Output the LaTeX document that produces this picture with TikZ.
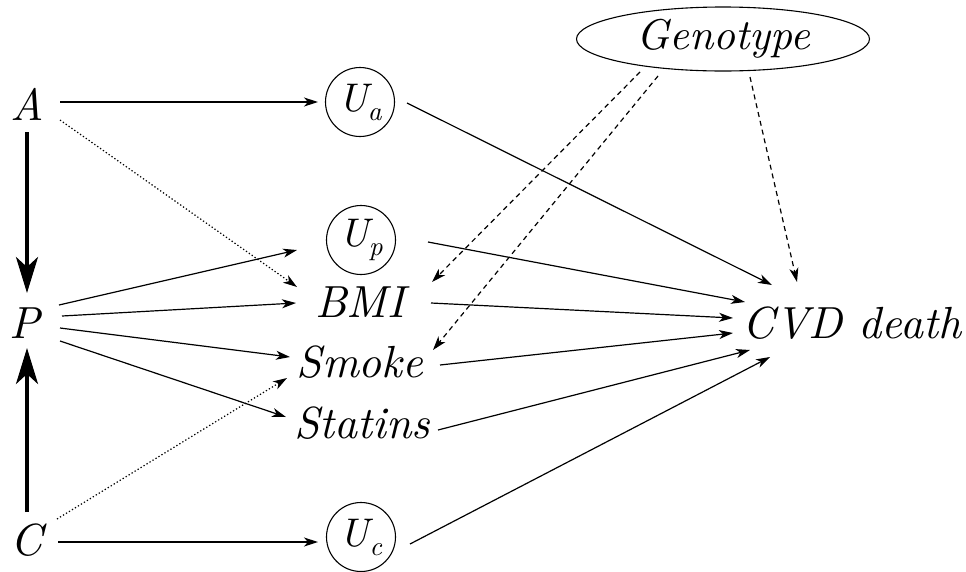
\documentclass[tikz,border=0pt]{standalone}
\usepackage{fontspec}
\newfontfamily\tit{lmroman10-italic}[Extension=.otf]
\usetikzlibrary{arrows.meta,shapes.geometric,calc}
\newcommand\Ulab[1]{{\fontsize{40}{40}\tit U\kern0pt\raisebox{-9pt}{\fontsize{27}{27}\tit #1}}}
\begin{document}
\begin{tikzpicture}[x=1pt,y=-1pt,
  lbl/.style={font=\fontsize{45}{50}\tit, inner sep=0pt, anchor=base},
  ucirc/.style={circle, draw, line width=1.1pt, minimum size=69pt, inner sep=0pt},
  geno/.style={ellipse, draw, line width=1.1pt, minimum width=293pt, minimum height=64pt, inner sep=0pt, font=\fontsize{43}{50}\tit},
  arr/.style={-{Stealth[length=14pt,width=9pt,inset=4pt]}, line width=1.2pt},
  thick arr/.style={-{Stealth[length=36pt,width=22pt,inset=10pt]}, line width=3.6pt},
  dotarr/.style={arr, dash pattern=on 1.3pt off 2.2pt},
  dasharr/.style={arr, dash pattern=on 5pt off 4pt}
]
\useasboundingbox (0,0) rectangle (966,571);

% nodes
\node[lbl] (A) at (27,120) {A};
\node[lbl] (P) at (25,338) {P};
\node[lbl] (C) at (27,555) {C};
\node[ucirc] (Ua) at (360,102) {\Ulab{a}};
\node[ucirc] (Up) at (361,240) {\Ulab{p}};
\node[ucirc] (Uc) at (361,537) {\Ulab{c}};
\node[lbl] (BMI) at (360,317) {BMI};
\node[lbl] (Smoke) at (360,377) {Smoke};
\node[lbl] (Statins) at (362,438) {Statins};
\node[lbl] (CVD) at (852,338) {CVD death};
\node[geno] (Geno) at (723,39) {Genotype};

% thick arrows
\draw[thick arr] ($(A.base)+(0,12)$) -- ($(P.base)+(2,-45)$);
\draw[thick arr] ($(C.base)+(0,-43)$) -- ($(P.base)+(2,10)$);

% A and C
\draw[arr] ($(A.base)+(33,-18)$) -- ($(Ua)+(-42,0)$);
\draw[dotarr] ($(A.base)+(33,0)$) -- ($(BMI.base)+(-63,-30)$);
\draw[arr] ($(C.base)+(31,-13)$) -- ($(Uc)+(-43,5)$);
\draw[dotarr] ($(C.base)+(30,-36)$) -- ($(Smoke.base)+(-73,1)$);

% P fan
\draw[arr] ($(P.base)+(34,-33)$) -- ($(Up)+(-64,10)$);
\draw[arr] ($(P.base)+(37,-22)$) -- ($(BMI.base)+(-64,-14)$);
\draw[arr] ($(P.base)+(35,-10)$) -- ($(Smoke.base)+(-70,-20)$);
\draw[arr] ($(P.base)+(35,3)$) -- ($(Statins.base)+(-76,-21)$);

% into CVD death
\draw[arr] ($(Ua)+(47,1)$) -- ($(CVD.base)+(-80,-53)$);
\draw[arr] ($(Up)+(67,2)$) -- ($(CVD.base)+(-107,-36)$);
\draw[arr] ($(BMI.base)+(71,-14)$) -- ($(CVD.base)+(-119,-20)$);
\draw[arr] ($(Smoke.base)+(80,-12)$) -- ($(CVD.base)+(-119,-5)$);
\draw[arr] ($(Statins.base)+(76,-8)$) -- ($(CVD.base)+(-102,12)$);
\draw[arr] ($(Uc)+(49,7)$) -- ($(CVD.base)+(-82,19)$);

% Genotype
\draw[dasharr] ($(Geno)+(-83,33)$) -- ($(BMI.base)+(72,-35)$);
\draw[dasharr] ($(Geno)+(-65,37)$) -- ($(Smoke.base)+(73,-27)$);
\draw[dasharr] ($(Geno)+(27,38)$) -- ($(CVD.base)+(-55,-56)$);
\end{tikzpicture}
\end{document}
